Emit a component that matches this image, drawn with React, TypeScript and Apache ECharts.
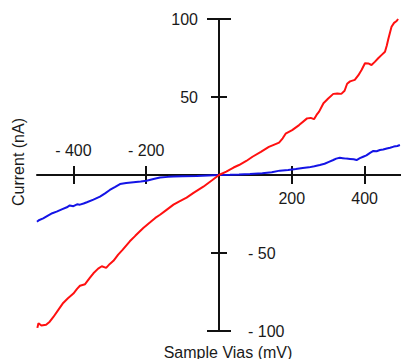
import React, { useEffect, useRef } from "react";
import * as echarts from "echarts";

// Sample bias (mV) / current (nA) — red trace
const redBias = [
  -499, -496, -488, -475, -465, -455, -440, -428, -415, -400, -390, -382, -368, -355, -345, -332, -322, -310, -300, -290,
  -277, -265, -245, -230, -208, -190, -175, -162, -145, -125, -110, -89, -70, -43, -20, 0,
  20, 40, 55, 75, 92, 115, 137, 152, 165, 175, 183, 201, 220, 242, 252, 261, 268, 275, 287, 300,
  314, 325, 336, 345, 352, 360, 373, 383, 392, 401, 410, 419, 428, 438, 447, 456, 461, 465, 470, 474, 481, 488, 492,
];
const redCurrent = [
  -98, -95, -96.5, -96, -94, -91, -86, -82, -79, -76, -73, -71, -70, -66, -63, -60, -58.5, -59.5, -57, -55,
  -51, -48, -42.5, -39, -34, -30.5, -27.5, -25.5, -22.5, -19, -17, -14.5, -11.5, -7.5, -3.5, 0,
  2.2, 4.8, 6.4, 9, 11.7, 14.8, 18, 19.5, 20.8, 23.5, 26.5, 28.8, 32, 36.3, 36.6, 35.8, 38.5, 40.6, 46, 49,
  52, 52.3, 52, 54, 58.5, 60, 61, 64, 67.5, 71.6, 71.5, 70.5, 72.5, 75, 77, 79, 83, 87, 91.5, 95, 97.5, 98.7, 100,
];

// Blue trace
const blueBias = [
  -500, -495, -483, -470, -458, -446, -432, -418, -410, -400, -390, -382, -372, -363, -345, -327, -313, -300, -285, -272,
  -255, -235, -215, -199, -180, -162, -140, -125, -100, -61, -30, 0,
  30, 55, 85, 119, 145, 167, 190, 211, 230, 247, 262, 277, 290, 302, 314, 322, 332, 340, 350, 360, 370, 378, 387, 396,
  405, 415, 424, 433, 442, 451, 461, 470, 480, 490, 497,
];
const blueCurrent = [
  -30, -29, -27.8, -26, -24.5, -23.5, -22, -20.7, -19.5, -20, -18.8, -19, -18.3, -17.5, -15.8, -13.9, -11.8, -9.6, -7.6, -5.8,
  -5.2, -4.7, -4.2, -3.7, -2.6, -1.6, -1.2, -1, -0.8, -0.6, -0.3, 0,
  0.2, 0.4, 0.7, 1.1, 1.8, 2.8, 3.2, 3.8, 4.5, 4.9, 5.6, 6.4, 7.2, 8.4, 9.6, 10.5, 11, 10.8, 10.5, 10.3, 10.1, 9.6, 10.8, 11.7,
  12.6, 14.2, 15.4, 15.2, 16, 16.3, 17, 17.5, 18.2, 18.6, 19.2,
];

const xTickValues = [-500, -400, -300, -200, -100, 0, 100, 200, 300, 400, 500];
const xMarkedTicks = [-400, -200, 200, 400];
const yTickValues = [-100, -50, 0, 50, 100];
const yCapTicks = [-100, 100];
const yMidTicks = [-50, 50];

const xTitle = "Sample Vias (mV)";
const yTitle = "Current (nA)";

const FONT = "Liberation Sans, Arial, sans-serif";
const AXIS_COLOR = "#111";
const TEXT_COLOR = "#1a1a1a";

// layout of the plotting area
const GRID = { left: 37, right: 0, top: 19, bottom: 28 };
const W = 401;
const H = 359;

const fmt = (v: number) => (v < 0 ? "- " + Math.abs(v) : String(v));

export default function App() {
  const ref = useRef<HTMLDivElement>(null);

  useEffect(() => {
    if (!ref.current) return;
    const chart = echarts.init(ref.current, undefined, { renderer: "svg" });

    const plotW = W - GRID.left - GRID.right;
    const plotH = H - GRID.top - GRID.bottom;
    // offsets that carry the tick axes from the grid edge to the zero lines
    const xOffset = -plotH / 2;
    const yOffset = -plotW / 2;

    const xCats = xTickValues.map(String);
    const yCats = yTickValues.map(String);
    const tickLine = { show: false, onZero: false };
    const labelStyle = { color: TEXT_COLOR, fontSize: 16, fontFamily: FONT };

    const xTickAxis = (inside: boolean, labelFilter: (v: number) => boolean, margin: number) => ({
      type: "category",
      data: xCats,
      boundaryGap: false,
      position: "bottom",
      offset: xOffset,
      axisLine: tickLine,
      axisTick: {
        show: true,
        inside,
        length: 9,
        lineStyle: { color: AXIS_COLOR, width: 2 },
        interval: (i: number) => xMarkedTicks.includes(xTickValues[i]),
      },
      axisLabel: {
        show: true,
        inside,
        margin,
        ...labelStyle,
        interval: (i: number) => labelFilter(xTickValues[i]),
        formatter: (v: string) => fmt(Number(v)),
      },
      splitLine: { show: false },
    });

    const yTickAxis = (
      inside: boolean,
      ticks: number[],
      length: number,
      labelFilter: ((v: number) => boolean) | null,
      margin: number
    ) => ({
      type: "category",
      data: yCats,
      boundaryGap: false,
      position: "left",
      offset: yOffset,
      axisLine: tickLine,
      axisTick: {
        show: true,
        inside,
        length,
        lineStyle: { color: AXIS_COLOR, width: 2 },
        interval: (i: number) => ticks.includes(yTickValues[i]),
      },
      axisLabel: labelFilter
        ? {
            show: true,
            inside,
            margin,
            ...labelStyle,
            interval: (i: number) => labelFilter(yTickValues[i]),
            formatter: (v: string) => fmt(Number(v)),
          }
        : { show: false },
      splitLine: { show: false },
    });

    chart.setOption({
      animation: false,
      backgroundColor: "#ffffff",
      grid: { ...GRID, containLabel: false, outerBoundsMode: "none" },
      xAxis: [
        {
          type: "value",
          min: -500,
          max: 500,
          axisLine: { show: true, onZero: true, lineStyle: { color: AXIS_COLOR, width: 2 } },
          axisTick: { show: false },
          axisLabel: { show: false },
          splitLine: { show: false },
        },
        xTickAxis(true, (v) => v < 0 && xMarkedTicks.includes(v), 17),
        xTickAxis(false, (v) => v > 0 && xMarkedTicks.includes(v), 15),
      ],
      yAxis: [
        {
          type: "value",
          min: -100,
          max: 100,
          interval: 50,
          axisLine: { show: true, onZero: true, lineStyle: { color: AXIS_COLOR, width: 2 } },
          axisTick: { show: false },
          axisLabel: { show: false },
          splitLine: { show: false },
        },
        yTickAxis(false, yCapTicks, 12, (v) => v > 0, 21),
        yTickAxis(true, yCapTicks, 12, (v) => v < 0, 29),
        yTickAxis(false, yMidTicks, 8, null, 0),
        yTickAxis(true, yMidTicks, 8, null, 0),
      ],
      series: [
        {
          type: "line",
          xAxisIndex: 0,
          yAxisIndex: 0,
          data: blueBias.map((b, i) => [b, blueCurrent[i]]),
          showSymbol: false,
          lineStyle: { color: "#1414e6", width: 2 },
          itemStyle: { color: "#1414e6" },
          z: 3,
        },
        {
          type: "line",
          xAxisIndex: 0,
          yAxisIndex: 0,
          data: redBias.map((b, i) => [b, redCurrent[i]]),
          showSymbol: false,
          lineStyle: { color: "#ff1010", width: 2 },
          itemStyle: { color: "#ff1010" },
          z: 3,
        },
      ],
      graphic: [
        {
          type: "text",
          x: 228,
          y: 352,
          style: {
            text: xTitle,
            fill: TEXT_COLOR,
            font: `16px ${FONT}`,
            textAlign: "center",
            textVerticalAlign: "middle",
          },
        },
        {
          type: "text",
          x: 18,
          y: 162,
          rotation: Math.PI / 2,
          style: {
            text: yTitle,
            fill: TEXT_COLOR,
            font: `16px ${FONT}`,
            textAlign: "center",
            textVerticalAlign: "middle",
          },
        },
      ],
    });

    return () => chart.dispose();
  }, []);

  return (
    <div
      ref={ref}
      style={{ position: "fixed", left: 0, top: 0, width: W, height: H, background: "#fff" }}
    />
  );
}
